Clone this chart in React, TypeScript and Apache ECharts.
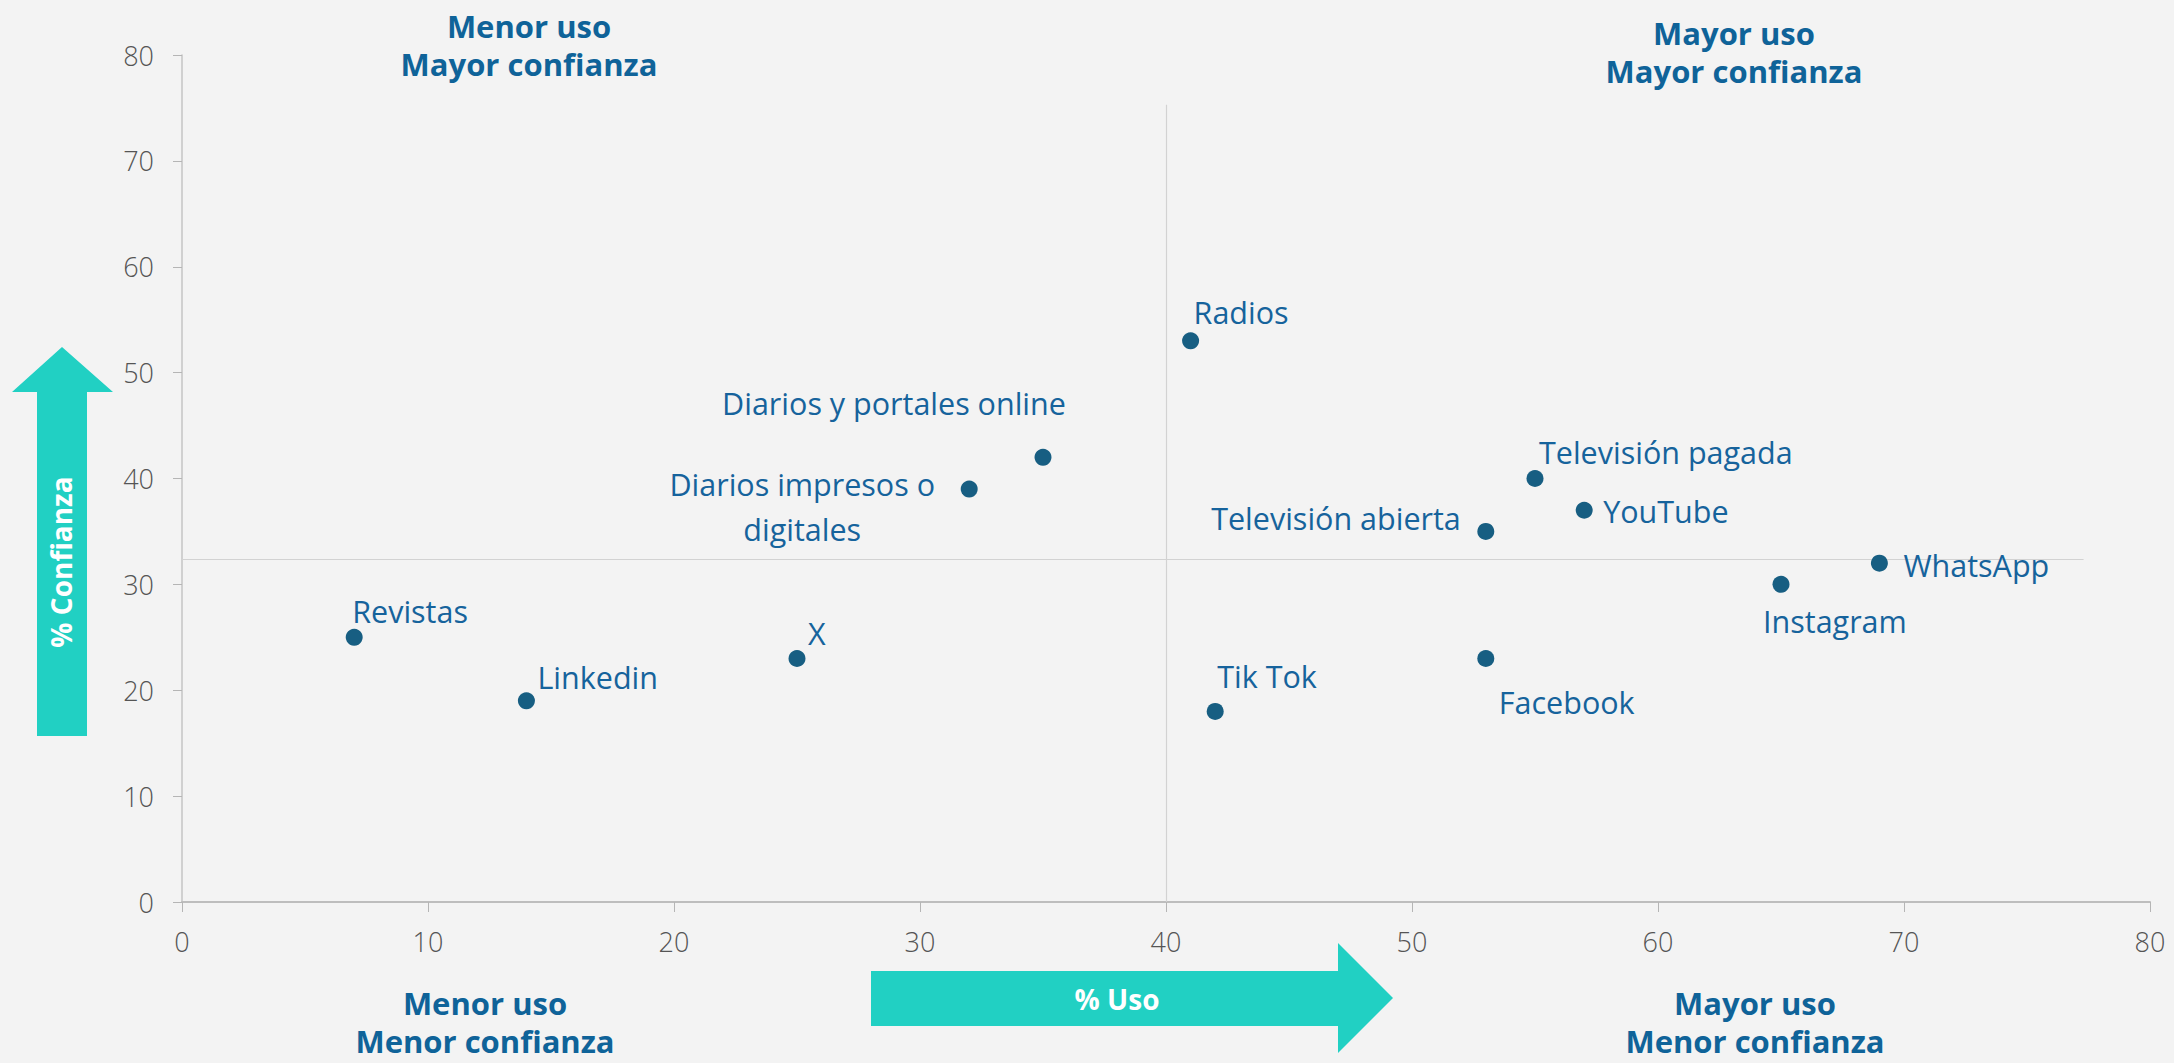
import React, { useEffect, useRef } from "react";
import * as echarts from "echarts";

// ---- Data ----
const mediaNames = [
  "Revistas",
  "Linkedin",
  "X",
  "Diarios impresos o\ndigitales",
  "Diarios y portales online",
  "Radios",
  "Tik Tok",
  "Televisión abierta",
  "Facebook",
  "Televisión pagada",
  "YouTube",
  "Instagram",
  "WhatsApp",
];
const usoValues = [7, 14, 25, 32, 35, 41, 42, 53, 53, 55, 57, 65, 69];
const confianzaValues = [25, 19, 23, 39, 42, 53, 18, 35, 23, 40, 37, 30, 32];

const axisMin = 0;
const axisMax = 80;
const axisInterval = 10;

// quadrant divider lines (in data units)
const dividerUso = 40;
const dividerConfianza = 32.36;
const dividerUsoTop = 75.3;
const dividerConfianzaEnd = 77.3;

const quadrantTopLeft = "Menor uso\nMayor confianza";
const quadrantTopRight = "Mayor uso\nMayor confianza";
const quadrantBottomLeft = "Menor uso\nMenor confianza";
const quadrantBottomRight = "Mayor uso\nMenor confianza";
const xArrowTitle = "% Uso";
const yArrowTitle = "% Confianza";

// ---- Styling ----
const FONT = "'Open Sans', 'Noto Sans', sans-serif";
const POINT_COLOR = "#175e82";
const LABEL_COLOR = "#16639c";
const TITLE_COLOR = "#0f6399";
const ARROW_COLOR = "#21d0c3";
const BG = "#f3f3f3";

// label placement per point: [dx, dy, align, lineHeight]
const labelPlacement: Array<[number, number, string, number?]> = [
  [-2, -26, "left"],
  [11, -24, "left"],
  [11, -25, "left"],
  [-167, 17, "center", 45],
  [-149, -54, "center"],
  [3, -29, "left"],
  [2, -35, "left"],
  [-25, -13, "right"],
  [13, 44, "left"],
  [4, -27, "left"],
  [19, 1, "left"],
  [-18, 37, "left"],
  [24, 2, "left"],
];

function textEl(text: string, x: number, y: number, opts: any = {}) {
  return {
    type: "text",
    x,
    y,
    rotation: opts.rotation || 0,
    z: 10,
    style: {
      text,
      fill: opts.fill || TITLE_COLOR,
      fontSize: opts.fontSize || 31,
      fontWeight: "bold",
      fontFamily: FONT,
      lineHeight: opts.lineHeight || 38,
      align: "center",
      verticalAlign: "middle",
      textAlign: "center",
      textVerticalAlign: "middle",
    },
  };
}

export default function App() {
  const ref = useRef<HTMLDivElement>(null);

  useEffect(() => {
    if (!ref.current) return;
    const chart = echarts.init(ref.current, null, { renderer: "svg" });

    const data = mediaNames.map((name, i) => {
      const p = labelPlacement[i];
      return {
        name,
        value: [usoValues[i], confianzaValues[i]],
        label: {
          show: true,
          position: "inside",
          offset: [p[0], p[1]],
          align: p[2],
          verticalAlign: "middle",
          lineHeight: p[3] || 36,
        },
      };
    });

    const option: any = {
      animation: false,
      backgroundColor: BG,
      grid: { left: 182, right: 24, top: 55, bottom: 161, containLabel: false },
      xAxis: {
        type: "value",
        min: axisMin,
        max: axisMax,
        interval: axisInterval,
        axisLine: { show: true, lineStyle: { color: "#bdbdbd", width: 2 } },
        axisTick: { show: true, length: 10, lineStyle: { color: "#b5b5b5", width: 1 } },
        splitLine: { show: false },
        axisLabel: {
          margin: 26,
          fontSize: 27,
          color: "#555555",
          fontFamily: FONT,
          fontWeight: 300,
        },
      },
      yAxis: {
        type: "value",
        min: axisMin,
        max: axisMax,
        interval: axisInterval,
        axisLine: { show: true, lineStyle: { color: "#c4c4c4", width: 1.5 } },
        axisTick: { show: true, length: 9, lineStyle: { color: "#b5b5b5", width: 1 } },
        splitLine: { show: false },
        axisLabel: {
          margin: 28,
          fontSize: 27,
          color: "#555555",
          fontFamily: FONT,
          fontWeight: 300,
        },
      },
      series: [
        {
          type: "scatter",
          symbol: "circle",
          symbolSize: 17,
          itemStyle: { color: POINT_COLOR, opacity: 1 },
          label: {
            show: true,
            formatter: "{b}",
            color: LABEL_COLOR,
            fontSize: 30.5,
            fontFamily: FONT,
            fontWeight: "normal",
          },
          emphasis: { disabled: true },
          data,
          z: 5,
          markLine: {
            silent: true,
            symbol: "none",
            z: 1,
            label: { show: false },
            lineStyle: { color: "#d2d2d2", width: 1.2, type: "solid" },
            data: [
              [{ coord: [dividerUso, axisMin] }, { coord: [dividerUso, dividerUsoTop] }],
              [
                { coord: [axisMin, dividerConfianza] },
                { coord: [dividerConfianzaEnd, dividerConfianza] },
              ],
            ],
          },
        },
      ],
      graphic: [
        // vertical arrow (% Confianza)
        {
          type: "polygon",
          z: 5,
          shape: {
            points: [
              [62, 347],
              [113, 392],
              [87, 392],
              [87, 736],
              [37, 736],
              [37, 392],
              [12, 392],
            ],
          },
          style: { fill: ARROW_COLOR },
        },
        // horizontal arrow (% Uso)
        {
          type: "polygon",
          z: 5,
          shape: {
            points: [
              [871, 971],
              [1338, 971],
              [1338, 943],
              [1393, 998],
              [1338, 1053],
              [1338, 1026],
              [871, 1026],
            ],
          },
          style: { fill: ARROW_COLOR },
        },
        textEl(yArrowTitle, 61, 562, { fill: "#ffffff", fontSize: 28, rotation: Math.PI / 2 }),
        textEl(xArrowTitle, 1117, 999, { fill: "#ffffff", fontSize: 28 }),
        textEl(quadrantTopLeft, 529, 45),
        textEl(quadrantTopRight, 1734, 52),
        textEl(quadrantBottomLeft, 485, 1022),
        textEl(quadrantBottomRight, 1755, 1022),
      ],
    };

    chart.setOption(option);
    return () => {
      chart.dispose();
    };
  }, []);

  return (
    <div
      ref={ref}
      style={{
        position: "fixed",
        left: 0,
        top: 0,
        width: 2174,
        height: 1063,
        background: BG,
      }}
    />
  );
}
